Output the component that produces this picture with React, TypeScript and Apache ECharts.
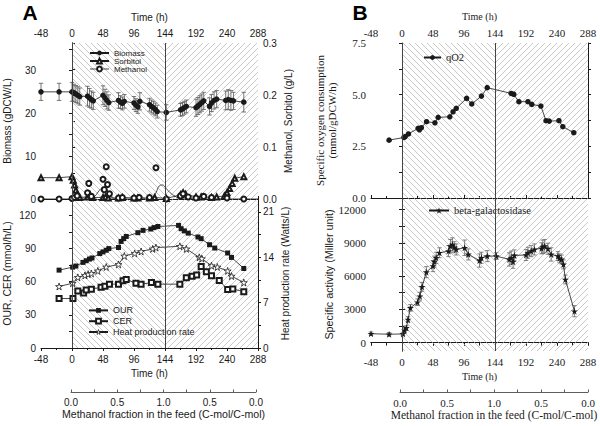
import React, { useEffect, useRef } from 'react';
import * as echarts from 'echarts';

// ---------- data ----------
// Panel A (top): biomass (gDCW/L) with error, sorbitol & methanol (g/L)
const bioT = [-48, -20, 0, 3, 6, 9, 12, 24, 27, 30, 33, 48, 51, 54, 57, 72, 75, 78, 81, 96, 99, 102, 105, 120, 123, 126, 129, 132, 146, 168, 171, 174, 177, 192, 195, 198, 201, 204, 213, 216, 220, 224, 238, 242, 246, 250, 266];
const bioV = [25.0, 25.0, 25.0, 24.8, 24.5, 24.2, 23.9, 24.0, 23.6, 23.2, 22.9, 24.2, 23.6, 23.0, 22.5, 23.0, 22.6, 22.3, 22.8, 22.4, 21.9, 21.5, 22.8, 22.0, 21.6, 21.3, 20.9, 20.4, 20.2, 20.8, 21.0, 21.3, 21.6, 21.3, 21.7, 22.1, 22.5, 22.9, 21.6, 22.4, 23.0, 23.3, 23.0, 23.2, 23.0, 22.9, 22.6];
const bioE = [2.0, 2.0, 2.2, 2.0, 2.0, 2.0, 2.0, 2.3, 2.2, 2.0, 2.0, 2.2, 2.0, 2.0, 1.8, 1.8, 1.5, 1.5, 1.6, 1.5, 1.5, 1.5, 2.0, 1.5, 1.5, 1.5, 1.5, 1.5, 1.8, 1.5, 1.5, 1.5, 1.5, 2.0, 2.0, 2.0, 2.0, 2.0, 2.0, 2.0, 2.0, 2.0, 2.2, 2.3, 2.3, 2.0, 2.3];
const sorT = [-48, -20, 0, 2, 4, 6, 8, 12, 24, 28, 32, 48, 52, 56, 72, 78, 96, 102, 120, 128, 146, 168, 172, 176, 192, 200, 216, 224, 236, 240, 244, 248, 252, 266];
const sorV = [0.041, 0.041, 0.043, 0.036, 0.027, 0.017, 0.009, 0.003, 0.004, 0.008, 0.003, 0.003, 0.004, 0.002, 0.002, 0.003, 0.002, 0.002, 0.002, 0.003, 0.001, 0.008, 0.012, 0.009, 0.004, 0.004, 0.003, 0.004, 0.006, 0.012, 0.02, 0.03, 0.04, 0.043];
const metT = [-48, -20, 0, 4, 8, 24, 26, 30, 48, 50, 53, 55, 58, 72, 78, 96, 104, 120, 130, 146, 168, 172, 180, 192, 204, 216, 240, 266];
const metV = [0, 0, 0.001, 0.003, 0.006, 0.012, 0.030, 0.005, 0.038, 0.018, 0.062, 0.028, 0.010, 0.002, 0.003, 0.002, 0.003, 0.003, 0.060, 0.000, 0.006, 0.010, 0.004, 0.002, 0.005, 0.003, 0.002, 0.000];
const metFitT = [-48, 28, 36, 42, 48, 54, 60, 66, 124, 130, 135, 140, 146, 152, 160, 170, 288];
const metFitV = [0, 0, 0.006, 0.016, 0.022, 0.018, 0.006, 0, 0, 0.012, 0.025, 0.027, 0.02, 0.012, 0.005, 0, 0];

// Panel A (bottom): OUR, CER (mmol/h/L), heat production (W/L)
const ourT = [-20, 1, 6, 17, 22, 27, 31, 43, 48, 53, 57, 72, 76, 80, 84, 102, 110, 122, 127, 133, 165, 169, 174, 180, 195, 200, 213, 221, 241, 247, 266];
const ourV = [70.5, 73.2, 74.2, 77.5, 79.0, 80.5, 81.5, 85.5, 87.0, 88.5, 90.0, 91.0, 96.5, 99.0, 101.0, 104.4, 106.5, 107.7, 109.0, 110.0, 111.0, 108.0, 106.0, 104.0, 100.5, 99.0, 93.5, 90.5, 86.0, 82.0, 72.0];
const cerT = [-20, 1.5, 9, 18, 22, 30, 45, 51, 58, 72, 79, 84, 99, 107, 123, 133, 167, 177, 186, 193, 200, 208, 216, 228, 241, 249, 266];
const cerV = [44.8, 44.8, 51.5, 49.7, 52.5, 53.3, 55.0, 56.0, 57.8, 57.8, 60.8, 62.0, 58.7, 57.8, 59.2, 57.8, 57.8, 63.5, 65.0, 66.0, 73.7, 69.0, 65.5, 61.0, 53.0, 53.5, 51.0];
const heatT = [-20, 1, 9, 20, 25, 30, 40, 53, 72, 81, 97, 107, 125, 130, 167, 177, 197, 201, 216, 225, 241, 247, 266];
const heatV = [9.5, 10.0, 10.9, 11.2, 11.4, 11.5, 11.9, 12.5, 12.9, 14.2, 14.6, 14.9, 15.3, 15.5, 15.7, 15.3, 14.0, 13.8, 12.7, 12.5, 11.9, 11.1, 10.1];

// Panel B (top): specific oxygen consumption
const qT = [-20, 3, 5, 10, 25, 27, 30, 38, 51, 56, 74, 79, 84, 100, 108, 123, 132, 169, 173, 181, 195, 201, 215, 223, 228, 243, 249, 266];
const qV = [2.8, 2.93, 2.97, 3.1, 3.37, 3.3, 3.4, 3.69, 3.64, 3.9, 3.93, 4.17, 4.34, 4.82, 4.55, 4.93, 5.34, 5.06, 5.02, 4.66, 4.66, 4.53, 4.45, 3.74, 3.72, 3.74, 3.45, 3.16];

// Panel B (bottom): beta-galactosidase specific activity (Miller unit)
const bT = [-48, -20, 1.5, 4, 6.7, 9.3, 13, 24, 27.6, 31, 37.7, 48, 50, 53, 58, 72, 75, 78, 81, 84, 97, 102.6, 120, 123, 132, 146, 166, 169, 172, 174, 192, 195, 200, 205, 216, 218, 221, 226, 231, 241.5, 244, 247, 250, 253, 267];
const bV = [800, 750, 780, 1110, 1320, 2080, 3130, 3640, 4180, 5030, 6350, 6900, 7300, 7650, 8100, 8250, 8700, 8850, 8600, 8400, 8550, 7950, 7400, 7650, 7800, 7800, 7500, 7650, 7300, 7860, 7900, 8100, 8250, 8400, 8500, 8640, 8700, 8460, 7950, 7800, 7600, 7500, 7050, 5690, 2830];
const bE = [150, 150, 150, 150, 200, 250, 300, 300, 350, 400, 500, 500, 500, 500, 450, 500, 600, 600, 500, 500, 700, 500, 600, 500, 500, 300, 600, 600, 600, 500, 500, 500, 500, 500, 500, 600, 600, 500, 600, 400, 400, 400, 400, 400, 500];

// phase boundaries (h)
const phaseBounds = [0, 144, 288];

// tick positions / labels
const bioLabels = [0, 10, 20, 30];
const bioTicks = [0, 5, 10, 15, 20, 25, 30, 35];
const glLabels = [0, 0.1, 0.2, 0.3];
const glTicks = [0, 0.05, 0.1, 0.15, 0.2, 0.25, 0.3];
const ourLabels = [0, 30, 60, 90, 120];
const ourTicks = [0, 15, 30, 45, 60, 75, 90, 105, 120];
const heatLabels = [0, 7, 14, 21];
const heatTicks = [0, 3.5, 7, 10.5, 14, 17.5, 21];
const qLabels = [0, 2.5, 5, 7.5];
const qTicks = [0, 1.25, 2.5, 3.75, 5, 6.25, 7.5];
const betaLabels = [0, 3000, 6000, 9000, 12000];
const betaTicks = [0, 1500, 3000, 4500, 6000, 7500, 9000, 10500, 12000];
const fracLabels = [0, 0.5, 1, 1.5, 2];
const fracTicks = [0, 0.25, 0.5, 0.75, 1, 1.25, 1.5, 1.75, 2];

const SANS = 'Liberation Sans, Arial, Helvetica, sans-serif';
const SERIF = 'Liberation Serif, Times New Roman, serif';
const INK = '#1a1a1a';
const STAR = 'path://M50,2 L61.8,37.6 L99,37.6 L68.9,59.6 L80.3,95 L50,73.3 L19.7,95 L31.1,59.6 L1,37.6 L38.2,37.6 Z';

function makeHatch(back: boolean): HTMLCanvasElement {
  const c = document.createElement('canvas');
  c.width = 6;
  c.height = 6;
  const g = c.getContext('2d')!;
  g.strokeStyle = '#b0b0b0';
  g.lineWidth = 0.7;
  g.beginPath();
  if (back) {
    g.moveTo(-1, -1); g.lineTo(7, 7);
    g.moveTo(-1, 5); g.lineTo(1, 7);
    g.moveTo(5, -1); g.lineTo(7, 1);
  } else {
    g.moveTo(-1, 7); g.lineTo(7, -1);
    g.moveTo(-1, 1); g.lineTo(1, -1);
    g.moveTo(5, 7); g.lineTo(7, 5);
  }
  g.stroke();
  return c;
}

function zip(t: number[], v: number[]) {
  return t.map((x, i) => [x, v[i]]);
}

function errRender(color: string, cap: number) {
  return (_p: any, api: any) => {
    const x = api.value(0);
    const a = api.coord([x, api.value(1)]);
    const b = api.coord([x, api.value(2)]);
    const st = { stroke: color, lineWidth: 0.8 };
    return {
      type: 'group',
      children: [
        { type: 'line', shape: { x1: a[0], y1: a[1], x2: b[0], y2: b[1] }, style: st },
        { type: 'line', shape: { x1: a[0] - cap, y1: a[1], x2: a[0] + cap, y2: a[1] }, style: st },
        { type: 'line', shape: { x1: b[0] - cap, y1: b[1], x2: b[0] + cap, y2: b[1] }, style: st },
      ],
    };
  };
}

function buildOption(): any {
  const patBack = { image: makeHatch(true), repeat: 'repeat', imageWidth: 6, imageHeight: 6 };
  const patFwd = { image: makeHatch(false), repeat: 'repeat', imageWidth: 6, imageHeight: 6 };

  const line = { show: true, lineStyle: { color: INK, width: 1 } };
  const tick = (len: number, inside = false, vals?: number[]) => ({
    show: true, inside, length: len, lineStyle: { color: INK, width: 1 }, ...(vals ? { customValues: vals } : {}),
  });

  const timeAxis = (gridIndex: number, position: string, font: string, fs: number, nfs: number, withLabels: boolean, nameGap: number, margin: number) => ({
    type: 'value', gridIndex, position, min: -48, max: 288, interval: 48,
    name: withLabels ? 'Time (h)' : '', nameLocation: 'middle', nameGap,
    nameTextStyle: { fontFamily: font, fontSize: nfs, color: INK },
    axisLine: line, axisTick: withLabels ? tick(3) : { show: false },
    minorTick: withLabels ? { show: true, splitNumber: 2, length: 2, lineStyle: { color: INK } } : { show: false },
    axisLabel: { show: withLabels, fontFamily: font, fontSize: fs, color: INK, margin },
    splitLine: { show: false },
  });

  const fracAxis = (gridIndex: number, font: string, fs: number, nfs: number) => ({
    type: 'value', gridIndex, position: 'bottom', min: 0, max: 2,
    name: 'Methanol fraction in the feed (C-mol/C-mol)', nameLocation: 'middle', nameGap: 16,
    nameTextStyle: { fontFamily: font, fontSize: nfs, color: INK },
    axisLine: { show: true, lineStyle: { color: '#333', width: 0.8 } },
    axisTick: { show: true, inside: true, length: 2.5, lineStyle: { color: '#333', width: 0.8 }, customValues: fracTicks },
    axisLabel: {
      customValues: fracLabels, fontFamily: font, fontSize: fs, color: INK, margin: 5,
      formatter: (v: number) => (v <= 1 ? v : 2 - v).toFixed(1),
    },
    splitLine: { show: false },
  });

  const yAx = (gridIndex: number, position: string, min: number, max: number, labels: number[] | null, ticks: number[],
    fmt: (v: number) => string, font: string, fs: number, name: string, nameGap: number, nfs: number, nameFont?: string, nlh?: number) => ({
    type: 'value', gridIndex, position, min, max,
    name, nameLocation: 'middle', nameGap, nameRotate: 90,
    nameTextStyle: { fontFamily: nameFont || font, fontSize: nfs, color: INK, lineHeight: nlh || nfs + 1 },
    axisLine: line, axisTick: tick(3, false, ticks),
    axisLabel: labels
      ? { customValues: labels, fontFamily: font, fontSize: fs, color: INK, margin: 5, formatter: fmt }
      : { show: false },
    splitLine: { show: false },
  });

  const hatchSeries = (xAxisIndex: number, yAxisIndex: number) => ({
    type: 'line', xAxisIndex, yAxisIndex, data: [], z: 1, silent: true,
    markArea: {
      silent: true,
      data: [
        [{ xAxis: phaseBounds[0], itemStyle: { color: patBack } }, { xAxis: phaseBounds[1] }],
        [{ xAxis: phaseBounds[1], itemStyle: { color: patFwd } }, { xAxis: phaseBounds[2] }],
      ],
    },
    markLine: {
      silent: true, symbol: ['none', 'none'], label: { show: false },
      lineStyle: { color: '#444', type: 'solid', width: 1 },
      data: [{ xAxis: phaseBounds[0] }, { xAxis: phaseBounds[1] }],
    },
  });

  const lineS = (name: string, xAxisIndex: number, yAxisIndex: number, data: number[][], symbol: string, size: number, extra: any = {}) => ({
    type: 'line', name, xAxisIndex, yAxisIndex, data, symbol, symbolSize: size, z: 4,
    itemStyle: { color: INK }, lineStyle: { color: INK, width: 0.8 }, ...extra,
  });

  const legendBase = (font: string, fs: number, lh: number) => ({
    orient: 'vertical', padding: 0, itemGap: 0, itemWidth: 19, itemHeight: 6,
    textStyle: { fontFamily: font, fontSize: fs, color: INK, lineHeight: lh },
    selectedMode: false,
  });

  const plain = (v: number) => String(v);
  const fix1 = (v: number) => v.toFixed(1);

  return {
    animation: false,
    backgroundColor: '#fff',
    textStyle: { fontFamily: SANS },
    grid: [
      { left: 41, top: 43, width: 217, height: 156 },
      { left: 41, top: 199, width: 217, height: 149 },
      { left: 71, top: 391, width: 185, height: 1 },
      { left: 371, top: 43, width: 217, height: 155 },
      { left: 371, top: 198, width: 217, height: 153 },
      { left: 400, top: 391, width: 188, height: 1 },
    ],
    xAxis: [
      timeAxis(0, 'top', SANS, 10, 10, true, 21, 5),
      timeAxis(0, 'bottom', SANS, 10, 10, false, 0, 0),
      timeAxis(1, 'bottom', SANS, 10, 10, true, 20, 6),
      fracAxis(2, SANS, 10, 10.6),
      timeAxis(3, 'top', SERIF, 11, 10, true, 22, 5),
      timeAxis(4, 'bottom', SERIF, 11, 10, true, 20, 5),
      {
        type: 'value', gridIndex: 4, position: 'top', min: -48, max: 288, interval: 24,
        axisLine: { show: true, lineStyle: { color: INK, width: 1, type: [4, 3] } },
        axisTick: { show: true, inside: true, length: 3, lineStyle: { color: INK } },
        axisLabel: { show: false }, splitLine: { show: false },
      },
      fracAxis(5, SERIF, 11, 11.5),
    ],
    yAxis: [
      yAx(0, 'left', 0, 36.4, bioLabels, bioTicks, plain, SANS, 10, 'Biomass (gDCW/L)', 28, 10),
      yAx(0, 'right', 0, 0.3, glLabels, glTicks, fix1, SANS, 10, 'Methanol, Sorbitol (g/L)', 25, 10),
      yAx(1, 'left', 0, 134.9, ourLabels, ourTicks, plain, SANS, 10, 'OUR, CER (mmol/h/L)', 28, 10.5),
      yAx(1, 'right', 0, 23, heatLabels, heatTicks, plain, SANS, 10, 'Heat production rate (Watts/L)', 22, 10),
      { type: 'value', gridIndex: 2, show: false, min: 0, max: 1 },
      yAx(3, 'left', 0, 7.5, qLabels, qTicks, fix1, SERIF, 11, 'Specific oxygen consumption\n(mmol/gDCW/h)', 33, 11, SERIF, 12),
      yAx(3, 'right', 0, 7.5, null, qTicks, plain, SERIF, 11, '', 0, 11),
      yAx(4, 'left', -760, 13040, betaLabels, betaTicks, plain, SERIF, 11, 'Specific activity (Miller unit)', 34, 10.8, SANS),
      yAx(4, 'right', -760, 13040, null, betaTicks, plain, SERIF, 11, '', 0, 11),
      { type: 'value', gridIndex: 5, show: false, min: 0, max: 1 },
    ],
    legend: [
      {
        ...legendBase(SANS, 8, 7.5), left: 89, top: 49,
        data: ['Biomass', 'Sorbitol', { name: 'Methanol', lineStyle: { opacity: 1, width: 0.8, color: INK } }],
      },
      {
        ...legendBase(SANS, 9, 10.8), left: 88, top: 305,
        data: ['OUR', 'CER', { name: 'Heat production rate', itemStyle: { color: '#fff', borderColor: INK, borderWidth: 0.8 } }],
      },
      { ...legendBase(SERIF, 10.5, 10), left: 423, top: 52, itemWidth: 17, data: ['qO2'] },
      { ...legendBase(SERIF, 10.5, 10), left: 428, top: 205, itemWidth: 20, itemHeight: 8, data: ['beta-galactosidase'] },
    ],
    graphic: [
      { type: 'text', x: 30, y: 12, style: { text: 'A', align: 'center', verticalAlign: 'middle', font: `bold 21px ${SANS}`, fill: '#000' } },
      { type: 'text', x: 360, y: 12, style: { text: 'B', align: 'center', verticalAlign: 'middle', font: `bold 21px ${SANS}`, fill: '#000' } },
    ],
    series: [
      hatchSeries(0, 0),
      hatchSeries(2, 2),
      hatchSeries(4, 5),
      hatchSeries(5, 7),
      {
        type: 'custom', name: 'bioErr', xAxisIndex: 0, yAxisIndex: 0, z: 3, silent: true,
        renderItem: errRender('#555', 2.2), encode: { x: 0, y: [1, 2] },
        data: bioT.map((t, i) => [t, bioV[i] - bioE[i], bioV[i] + bioE[i]]),
      },
      lineS('Biomass', 0, 0, zip(bioT, bioV), 'circle', 5.5),
      lineS('Sorbitol', 0, 1, zip(sorT, sorV), 'emptyTriangle', 5),
      lineS('Methanol', 0, 1, zip(metT, metV), 'emptyCircle', 5, { lineStyle: { opacity: 0, width: 0.8, color: INK } }),
      {
        type: 'line', name: 'MethanolFit', xAxisIndex: 0, yAxisIndex: 1, data: zip(metFitT, metFitV),
        smooth: 0.4, showSymbol: false, symbol: 'none', z: 3, lineStyle: { color: INK, width: 0.8 },
      },
      lineS('OUR', 2, 2, zip(ourT, ourV), 'rect', 5),
      lineS('CER', 2, 2, zip(cerT, cerV), 'emptyRect', 5),
      lineS('Heat production rate', 2, 3, zip(heatT, heatV), STAR, 7,
        { itemStyle: { color: '#fff', borderColor: INK, borderWidth: 0.8 } }),
      lineS('qO2', 4, 5, zip(qT, qV), 'circle', 5.5),
      {
        type: 'custom', name: 'betaErr', xAxisIndex: 5, yAxisIndex: 7, z: 3, silent: true,
        renderItem: errRender('#666', 2.2), encode: { x: 0, y: [1, 2] },
        data: bT.map((t, i) => [t, bV[i] - bE[i], bV[i] + bE[i]]),
      },
      lineS('beta-galactosidase', 5, 7, zip(bT, bV), STAR, 7),
    ],
  };
}

export default function App() {
  const ref = useRef<HTMLDivElement>(null);
  useEffect(() => {
    document.body.style.margin = '0';
    const chart = echarts.init(ref.current!, null, { renderer: 'svg' });
    chart.setOption(buildOption());
    return () => chart.dispose();
  }, []);
  return <div ref={ref} style={{ width: 600, height: 426 }} />;
}
